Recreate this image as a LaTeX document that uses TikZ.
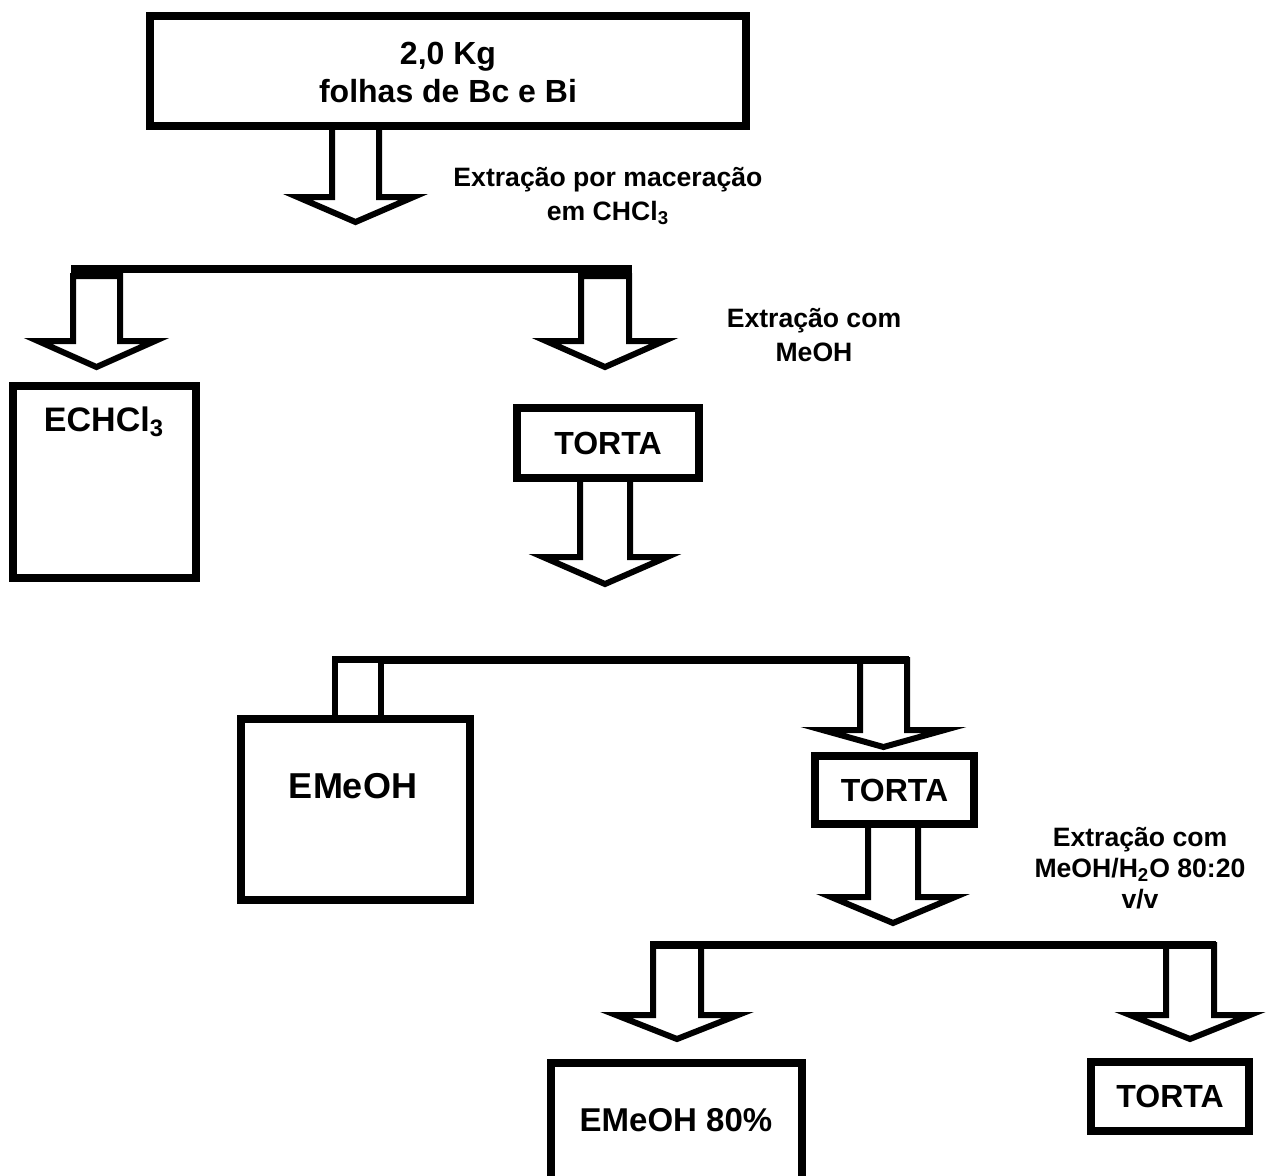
\documentclass[tikz,border=0pt]{standalone}
\usepackage{fontspec}
\setmainfont{Liberation Sans}
% hollow block arrow pointing down:
% #1 centre x, #2 top y, #3 y of head base, #4 tip y, #5 shaft half width, #6 head half width
\newcommand{\hollowdown}[6]{%
  \draw[blk] ({#1-#5},#2) -- ({#1-#5},#3) -- ({#1-#6},#3) -- (#1,#4)
    -- ({#1+#6},#3) -- ({#1+#5},#3) -- ({#1+#5},#2) -- cycle;}
\begin{document}
\begin{tikzpicture}[x=0.5pt,y=-0.5pt,
  box/.style={draw, line width=3.75pt, inner sep=0pt, line join=miter, fill=white},
  blk/.style={draw, line width=3pt, line join=miter, miter limit=10, fill=white},
  bar/.style={draw, line width=4pt, line cap=butt},
  lbl/.style={font=\bfseries\fontsize{13.3}{17}\selectfont, align=center, inner sep=0pt},
  ttl/.style={font=\bfseries\fontsize{16}{19}\selectfont, align=center, inner sep=0pt},
  torta/.style={font=\bfseries\fontsize{16}{18}\selectfont, inner sep=0pt}]
\useasboundingbox (0,0) rectangle (1266,1175);
\clip (0,0) rectangle (1266,1175);

% ---- block arrows (drawn first, boxes overlap their top edges)
\hollowdown{355.5}{126}{197}{222}{23.5}{58}
\hollowdown{96.5}{276}{341}{367}{23.5}{58.5}
\hollowdown{605}{276}{341}{367}{24}{59}
\hollowdown{605}{478}{557}{584}{25}{62}
\hollowdown{883.5}{660}{730}{747}{23.5}{61}
\hollowdown{893}{824}{897}{923}{25}{62}
\hollowdown{677}{945}{1015}{1039}{24}{61}
\hollowdown{1190}{945}{1015}{1039}{24}{60}

% ---- branching bars
\draw[bar] (71,269) -- (632,269);
\draw[bar] (332,660) -- (909,660);
\draw[bar] (650,945) -- (1216,945);
% short stub from the second bar into the EMeOH box
\draw[blk] (335,717) -- (335,660) -- (381,660) -- (381,717);

% ---- boxes
\node[box, minimum width=298pt, minimum height=55pt] (start) at (448,71) {};
\node[ttl] (starttxt) at (448,72) {2,0 Kg\\folhas de Bc e Bi};

\node[box, minimum width=91.5pt, minimum height=96pt] (echcl) at (104.5,482) {};
\node[font=\bfseries\fontsize{17}{19}\selectfont, inner sep=0pt] (echcltxt) at (104,422)
  {ECHCl\textsubscript{3}};

\node[box, minimum width=91pt, minimum height=35pt, torta] (torta1) at (608,443) {TORTA};

\node[box, minimum width=114.5pt, minimum height=90.5pt] (emeoh) at (355.5,809.5) {};
\node[font=\bfseries\fontsize{18}{20}\selectfont, inner sep=0pt] (emeohtxt) at (353,786) {EMeOH};

\node[box, minimum width=79.5pt, minimum height=34pt, torta] (torta2) at (894.5,790) {TORTA};

\node[box, minimum width=125.5pt, minimum height=150pt] (emeoh80) at (676.5,1213) {};
\node[font=\bfseries\fontsize{16.5}{18}\selectfont, inner sep=0pt] (emeoh80txt) at (676,1120) {EMeOH 80\%};

\node[box, minimum width=79pt, minimum height=34.5pt, torta] (torta3) at (1170,1096.5) {TORTA};

% ---- step labels
\node[lbl] (l1) at (608,196) {Extração por maceração\\em CHCl\textsubscript{3}};
\node[lbl] (l2) at (814,335) {Extração com\\MeOH};
\node[lbl, font=\bfseries\fontsize{13.3}{15.5}\selectfont] (l3) at (1140,868)
  {Extração com\\MeOH/H\textsubscript{2}O 80:20\\v/v};
\end{tikzpicture}
\end{document}
